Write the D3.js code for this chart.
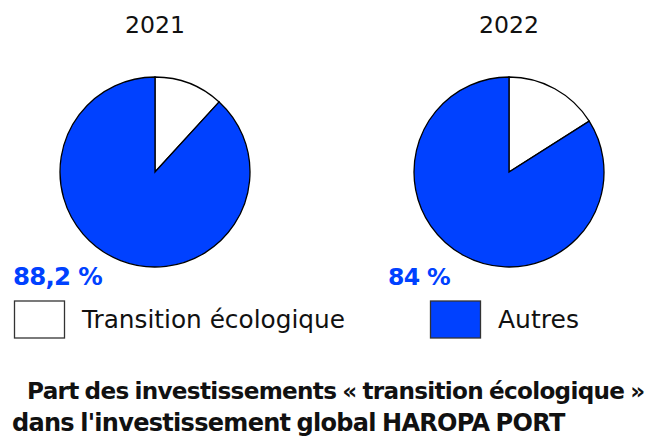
<!DOCTYPE html>
<html>
<head>
<meta charset="utf-8">
<script src="https://cdn.jsdelivr.net/npm/d3@7"></script>
<style>
  body { margin: 0; background: #fff; }
  text { font-family: "DejaVu Sans", sans-serif; }
  .heavy { letter-spacing: -0.03em; word-spacing: -0.06em; }
  .pct { letter-spacing: -0.03em; }
</style>
</head>
<body>
<div class="pie-chart"></div>
<script>
const years = ["2021", "2022"];
const transition = [11.8, 16];
const autres = [88.2, 84];
const autresLabels = ["88,2 %", "84 %"];
const legendLabels = ["Transition écologique", "Autres"];
const colors = ["#ffffff", "#0041ff"];
const titleLines = ["Part des investissements « transition écologique »",
                    "dans l'investissement global HAROPA PORT"];

const width = 652, height = 438;
const radius = 95;

const svg = d3.select('.pie-chart')
    .append('svg')
    .attr("width", width)
    .attr("height", height);

// one pie per year
const x = d3.scalePoint()
    .domain(years)
    .range([155, 509]);

const pie = d3.pie().sort(null);
const arc = d3.arc().innerRadius(0).outerRadius(radius);

// fit text to a target width
function fit(sel, w) {
    const len = sel.node().getComputedTextLength();
    const fs = parseFloat(sel.attr("font-size"));
    sel.attr("font-size", fs * w / len);
}

const labelX = [13, 388];

years.forEach((yr, i) => {
    const g = svg.append("g")
        .attr("transform", "translate(" + x(yr) + ",172)");

    g.selectAll("path")
        .data(pie([transition[i], autres[i]]))
        .enter()
        .append("path")
        .attr("d", arc)
        .style("fill", (d, j) => colors[j])
        .style("stroke", "#000")
        .style("stroke-width", 1.3);

    const yt = svg.append("text")
        .attr("x", x(yr))
        .attr("y", 33)
        .attr("text-anchor", "middle")
        .attr("font-size", 24)
        .attr("fill", "#111")
        .text(yr);
    fit(yt, 60);

    const lbl = svg.append("text")
        .attr("class", "pct")
        .attr("x", labelX[i])
        .attr("y", 285)
        .attr("font-size", 24)
        .attr("font-weight", "bold")
        .attr("fill", colors[1])
        .text(autresLabels[i]);
    fit(lbl, i === 0 ? 89 : 62);
});

// legend
const legendX = [14, 430];
legendLabels.forEach((l, i) => {
    svg.append("rect")
        .attr("x", legendX[i] + 0.5)
        .attr("y", 301)
        .attr("width", 50)
        .attr("height", 37)
        .style("fill", colors[i])
        .style("stroke", "#333")
        .style("stroke-width", 1.3);
    const t = svg.append("text")
        .attr("x", legendX[i] + 68)
        .attr("y", 328)
        .attr("font-size", 24)
        .attr("fill", "#111")
        .text(l);
    fit(t, i === 0 ? 263 : 81);
});

// title
const t1 = svg.append("text")
    .attr("class", "heavy")
    .attr("x", 27).attr("y", 399)
    .attr("font-size", 24).attr("font-weight", "bold")
    .attr("fill", "#111")
    .text(titleLines[0]);
fit(t1, 618);
const t2 = svg.append("text")
    .attr("class", "heavy")
    .attr("x", 12).attr("y", 431)
    .attr("font-size", 24).attr("font-weight", "bold")
    .attr("fill", "#111")
    .text(titleLines[1]);
fit(t2, 553);
</script>
</body>
</html>
